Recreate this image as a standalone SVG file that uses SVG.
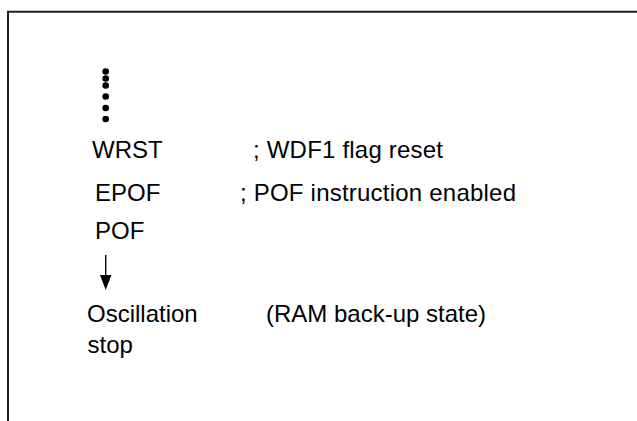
<svg xmlns="http://www.w3.org/2000/svg" width="637" height="421" viewBox="0 0 637 421">
<style>
.t{font-family:"Liberation Sans",Arial,sans-serif;font-size:24px;fill:#000}
.frame{fill:none;stroke:#222;stroke-width:2}
</style>
<rect width="637" height="421" fill="#fff"/>
<path class="frame" d="M8,421 V11.8 H637"/>
<g id="dots" fill="#000">
<circle cx="105.7" cy="71.5" r="3.3"/>
<circle cx="105.7" cy="78.5" r="3.3"/>
<circle cx="105.7" cy="85.5" r="3.3"/>
<circle cx="105.7" cy="96.5" r="3.3"/>
<circle cx="105.7" cy="108" r="3.3"/>
<circle cx="105.7" cy="119" r="3.3"/>
</g>
<g id="wrst"><text class="t" x="92" y="158">WRST</text><text class="t" x="253" y="158" textLength="190" lengthAdjust="spacing">; WDF1 flag reset</text></g>
<g id="epof"><text class="t" x="95" y="201">EPOF</text><text class="t" x="240" y="201" textLength="276" lengthAdjust="spacing">; POF instruction enabled</text></g>
<g id="pof"><text class="t" x="95" y="239">POF</text></g>
<g id="connectors">
<line x1="105.7" y1="255" x2="105.7" y2="277" stroke="#000" stroke-width="1.4"/>
<path d="M100,275 L111.5,275 L105.7,290 Z" fill="#000"/>
</g>
<g id="osc"><text class="t" x="87" y="322">Oscillation</text><text class="t" x="87.5" y="353">stop</text><text class="t" x="266" y="322">(RAM back-up state)</text></g>
</svg>
